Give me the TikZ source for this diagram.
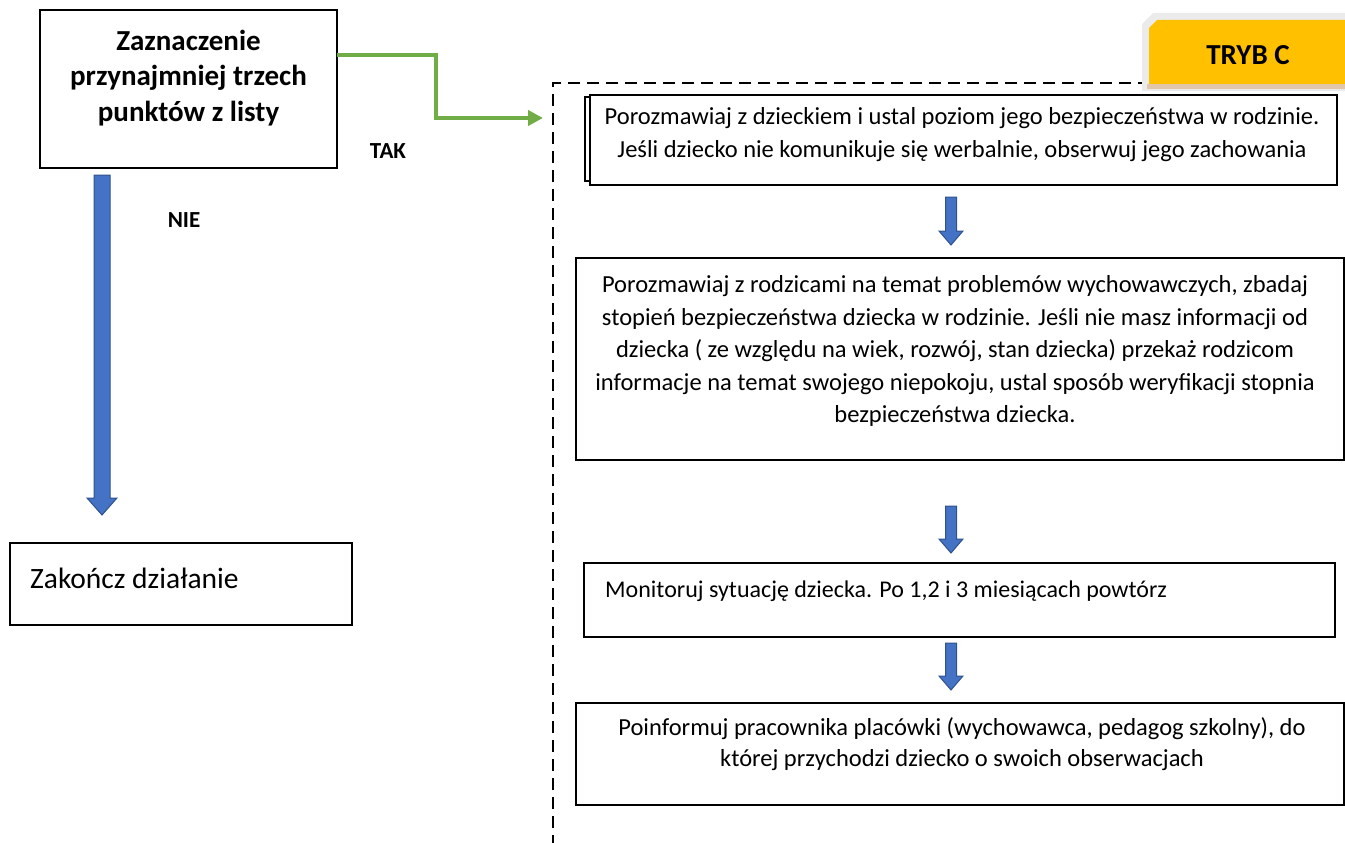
\documentclass[tikz,border=0pt]{standalone}
\usepackage{fontspec}
\setmainfont{Carlito}
\usetikzlibrary{arrows.meta,calc}
\definecolor{gr}{HTML}{70AD47}
\definecolor{bl}{HTML}{4472C4}
\definecolor{bld}{HTML}{2F528F}
\definecolor{yl}{HTML}{FFC000}
\tikzset{
  boxs/.style={draw=black, line width=1.2pt, fill=white},
  txt/.style={font=\fontsize{24.5}{32.5}\selectfont, align=center, inner sep=0pt},
  blk/.style={fill=bl, draw=bld, line width=1pt, line join=miter},
  lab/.style={font=\bfseries\fontsize{23}{25}\selectfont, inner sep=0pt},
}
\newcommand\blockdown[6]{% x, ytop, ybottom(tip), halfshaft, halfhead, headlen
  \draw[blk] (#1-#4,#2) -- (#1+#4,#2) -- (#1+#4,#3-#6) -- (#1+#5,#3-#6) -- (#1,#3) -- (#1-#5,#3-#6) -- (#1-#4,#3-#6) -- cycle;}
\begin{document}
\begin{tikzpicture}[x=1pt,y=-1pt]
\useasboundingbox (0,0) rectangle (1345,843);
% left question box
\draw[boxs] (40,10) rectangle (337,168);
\node[txt, font=\bfseries\fontsize{29}{35.5}\selectfont] (q) at (188.5,78) {Zaznaczenie\\przynajmniej trzech\\punktów z listy};
\coordinate (qe) at (337,55);
% labels
\node[lab] (tak) at (388,151) {TAK};
\node[lab] (nie) at (184,220) {NIE};
% green arrow
\coordinate (gt) at (543,118);
\draw[gr, line width=4pt, line join=miter, -{Triangle[length=15pt,width=15pt]}] (qe) -- (436,55) -- (436,118) -- (gt);
% left blue arrow
\blockdown{102}{175}{515}{8}{15}{17}
% end box
\draw[boxs] (10,543) rectangle (352,625);
\node[anchor=west, font=\fontsize{29.5}{32}\selectfont, inner sep=0pt] (end) at (30,578) {Zakończ działanie};
% dashed container
\draw[line width=1.2pt, dash pattern=on 12pt off 7pt] (1150,83) -- (553,83) -- (553,843);
% TRYB C tab
\fill[black!8] (1142,91) -- (1142,24) -- (1153,13) -- (1345,13) -- (1345,91) -- cycle;
\fill[yl] (1149,84) -- (1149,28) -- (1157,20) -- (1345,20) -- (1345,84) -- cycle;
\fill[brown!45!white] (1147,84) rectangle (1345,89);
\node[font=\bfseries\fontsize{29}{30}\selectfont, inner sep=0pt] (tryb) at (1248,55) {TRYB C};
% box 1
\draw[boxs] (585,97) rectangle (1330,181);
\draw[boxs] (590,95) rectangle (1337,185);
\node[txt, font=\fontsize{24.5}{33}\selectfont] (t1) at (962,135) {Porozmawiaj z dzieckiem i ustal poziom jego bezpieczeństwa w rodzinie.\\Jeśli dziecko nie komunikuje się werbalnie, obserwuj jego zachowania};
\blockdown{951}{197}{245}{5.5}{12}{14}
% box 2
\draw[boxs] (576,258) rectangle (1344,460);
\node[txt] (t2) at (955,351) {Porozmawiaj z rodzicami na temat problemów wychowawczych, zbadaj\\stopień bezpieczeństwa dziecka w rodzinie. Jeśli nie masz informacji od\\dziecka ( ze względu na wiek, rozwój, stan dziecka) przekaż rodzicom\\informacje na temat swojego niepokoju, ustal sposób weryfikacji stopnia\\bezpieczeństwa dziecka.};
\blockdown{951}{506}{553}{5.5}{12}{14}
% box 3
\draw[boxs] (584,563) rectangle (1335,637);
\node[txt, font=\fontsize{24}{30}\selectfont, anchor=west] (t3) at (605,591) {Monitoruj sytuację dziecka. Po 1,2 i 3 miesiącach powtórz};
\blockdown{951}{643}{690}{5.5}{12}{14}
% box 4
\draw[boxs] (576,703) rectangle (1344,805);
\node[txt, font=\fontsize{24.5}{31}\selectfont] (t4) at (962,744) {Poinformuj pracownika placówki (wychowawca, pedagog szkolny), do\\której przychodzi dziecko o swoich obserwacjach};
\end{tikzpicture}
\end{document}
